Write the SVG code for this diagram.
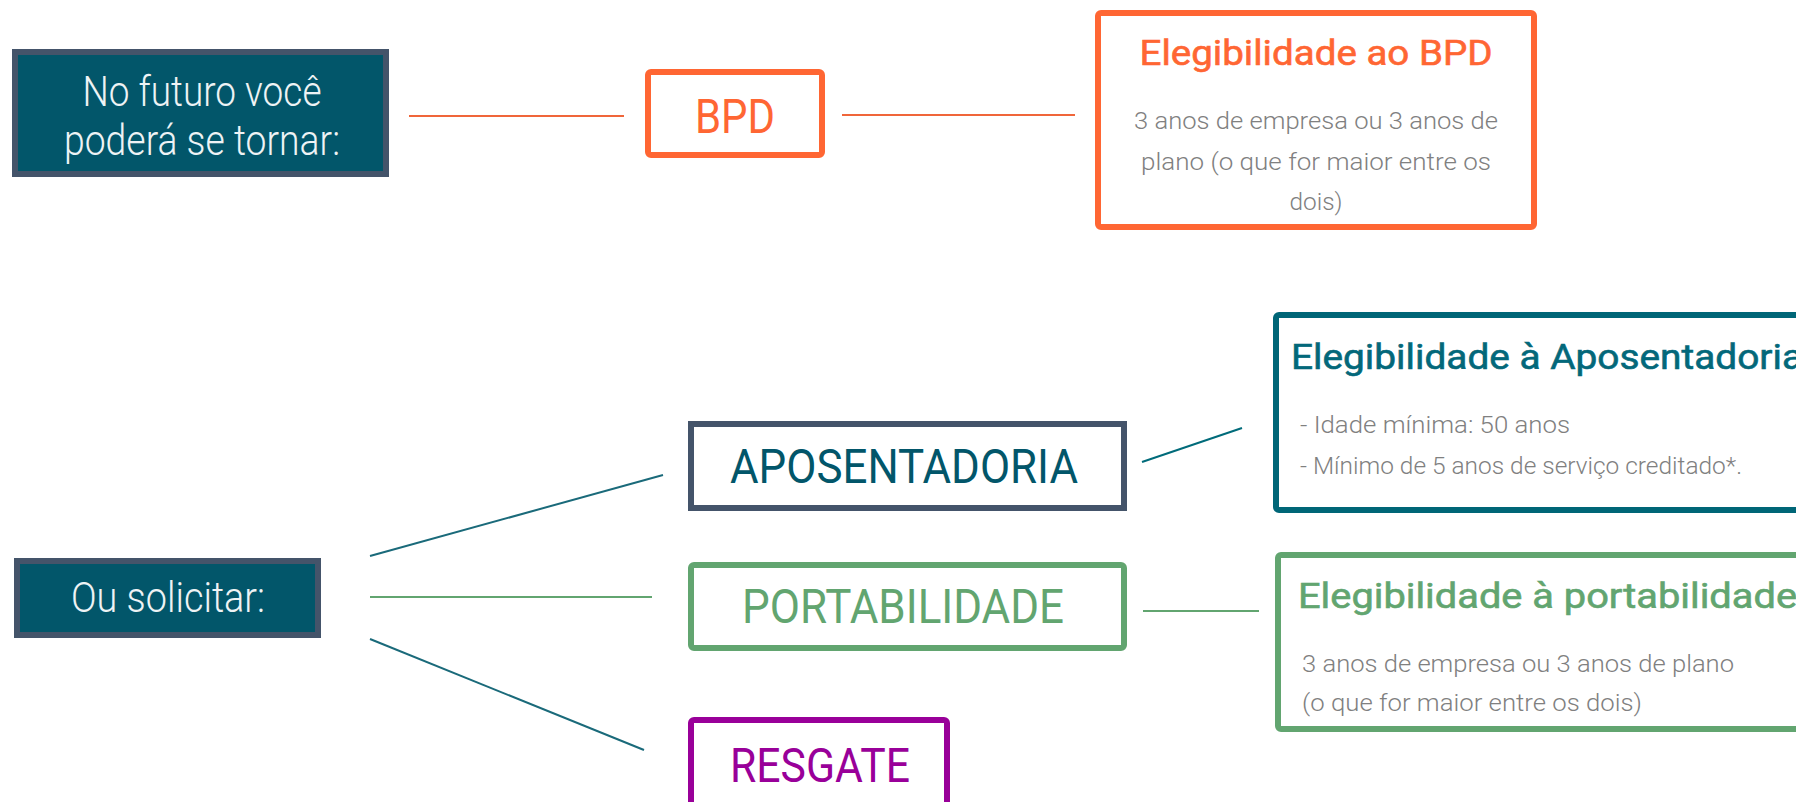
<svg xmlns="http://www.w3.org/2000/svg" width="1796" height="802" viewBox="0 0 1796 802">
<style>
.dark{fill:#02566a;stroke:#44546a;stroke-width:6}
.wt{fill:#eef3f5;font-family:Roboto,"Open Sans",sans-serif;font-weight:300;font-size:42px;text-anchor:middle}
.big{font-family:Roboto,"Open Sans",sans-serif;font-weight:400;font-size:48px;text-anchor:middle}
.ttl{font-family:Roboto,"Open Sans",sans-serif;font-weight:400;font-size:35px;stroke-width:0.6}
.body{fill:#808080;font-family:Roboto,"Open Sans",sans-serif;font-weight:300;font-size:23px}
.conn line{stroke-width:2;fill:none}
</style>
<rect width="1796" height="802" fill="#ffffff"/>
<g id="conn" class="conn">
<line x1="409" y1="116" x2="624" y2="116" stroke="#f0663a"/>
<line x1="842" y1="115" x2="1075" y2="115" stroke="#f0663a"/>
<line x1="370" y1="556" x2="663" y2="475" stroke="#1a6a7a"/>
<line x1="370" y1="597" x2="652" y2="597" stroke="#62a570"/>
<line x1="370" y1="639" x2="644" y2="750" stroke="#1a6a7a"/>
<line x1="1142" y1="462" x2="1242" y2="428" stroke="#006b7a"/>
<line x1="1143" y1="611" x2="1259" y2="611" stroke="#62a570"/>
</g>
<g id="futuro">
<rect class="dark" x="15" y="52" width="371" height="122"/>
<text class="wt" x="202" y="106" textLength="239" lengthAdjust="spacingAndGlyphs">No futuro você</text>
<text class="wt" x="202" y="155" textLength="276" lengthAdjust="spacingAndGlyphs">poderá se tornar:</text>
</g>
<g id="bpd">
<rect x="648" y="72" width="174" height="83" rx="3" fill="#fff" stroke="#ff6633" stroke-width="6"/>
<text class="big" x="735" y="133" fill="#ff6633" textLength="80" lengthAdjust="spacingAndGlyphs">BPD</text>
</g>
<g id="eleg-bpd">
<rect x="1098" y="13" width="436" height="214" rx="3" fill="#fff" stroke="#ff6633" stroke-width="6"/>
<text class="ttl" x="1316" y="65" fill="#ff6633" stroke="#ff6633" text-anchor="middle" textLength="353" lengthAdjust="spacingAndGlyphs">Elegibilidade ao BPD</text>
<text class="body" x="1316" y="129" text-anchor="middle" textLength="364" lengthAdjust="spacingAndGlyphs">3 anos de empresa ou 3 anos de</text>
<text class="body" x="1316" y="170" text-anchor="middle" textLength="350" lengthAdjust="spacingAndGlyphs">plano (o que for maior entre os</text>
<text class="body" x="1316" y="210" text-anchor="middle" textLength="53" lengthAdjust="spacingAndGlyphs">dois)</text>
</g>
<g id="solicitar">
<rect class="dark" x="17" y="561" width="301" height="74"/>
<text class="wt" x="168" y="612" font-size="40" textLength="194" lengthAdjust="spacingAndGlyphs">Ou solicitar:</text>
</g>
<g id="aposentadoria">
<rect x="691" y="424" width="433" height="84" fill="#fff" stroke="#44546a" stroke-width="6"/>
<text class="big" x="904" y="483" fill="#02566a" textLength="348" lengthAdjust="spacingAndGlyphs">APOSENTADORIA</text>
</g>
<g id="portabilidade">
<rect x="691" y="565" width="433" height="83" rx="3" fill="#fff" stroke="#62a570" stroke-width="6"/>
<text class="big" x="903" y="623" fill="#62a570" textLength="322" lengthAdjust="spacingAndGlyphs">PORTABILIDADE</text>
</g>
<g id="resgate">
<rect x="691" y="720" width="256" height="92" rx="3" fill="#fff" stroke="#990099" stroke-width="6"/>
<text class="big" x="820" y="782" fill="#990099" textLength="180" lengthAdjust="spacingAndGlyphs">RESGATE</text>
</g>
<g id="eleg-apos">
<rect x="1276" y="315" width="560" height="195" rx="3" fill="#fff" stroke="#006677" stroke-width="6"/>
<text class="ttl" x="1291" y="369" fill="#03687a" stroke="#03687a" textLength="512" lengthAdjust="spacingAndGlyphs">Elegibilidade à Aposentadoria</text>
<text class="body" x="1300" y="433" textLength="270" lengthAdjust="spacingAndGlyphs">- Idade mínima: 50 anos</text>
<text class="body" x="1300" y="474" textLength="442" lengthAdjust="spacingAndGlyphs">- Mínimo de 5 anos de serviço creditado*.</text>
</g>
<g id="eleg-port">
<rect x="1278" y="555" width="560" height="174" rx="3" fill="#fff" stroke="#62a570" stroke-width="6"/>
<text class="ttl" x="1298" y="608" fill="#62a570" stroke="#62a570" textLength="499" lengthAdjust="spacingAndGlyphs">Elegibilidade à portabilidade</text>
<text class="body" x="1302" y="672" textLength="432" lengthAdjust="spacingAndGlyphs">3 anos de empresa ou 3 anos de plano</text>
<text class="body" x="1302" y="711" textLength="340" lengthAdjust="spacingAndGlyphs">(o que for maior entre os dois)</text>
</g>
</svg>
